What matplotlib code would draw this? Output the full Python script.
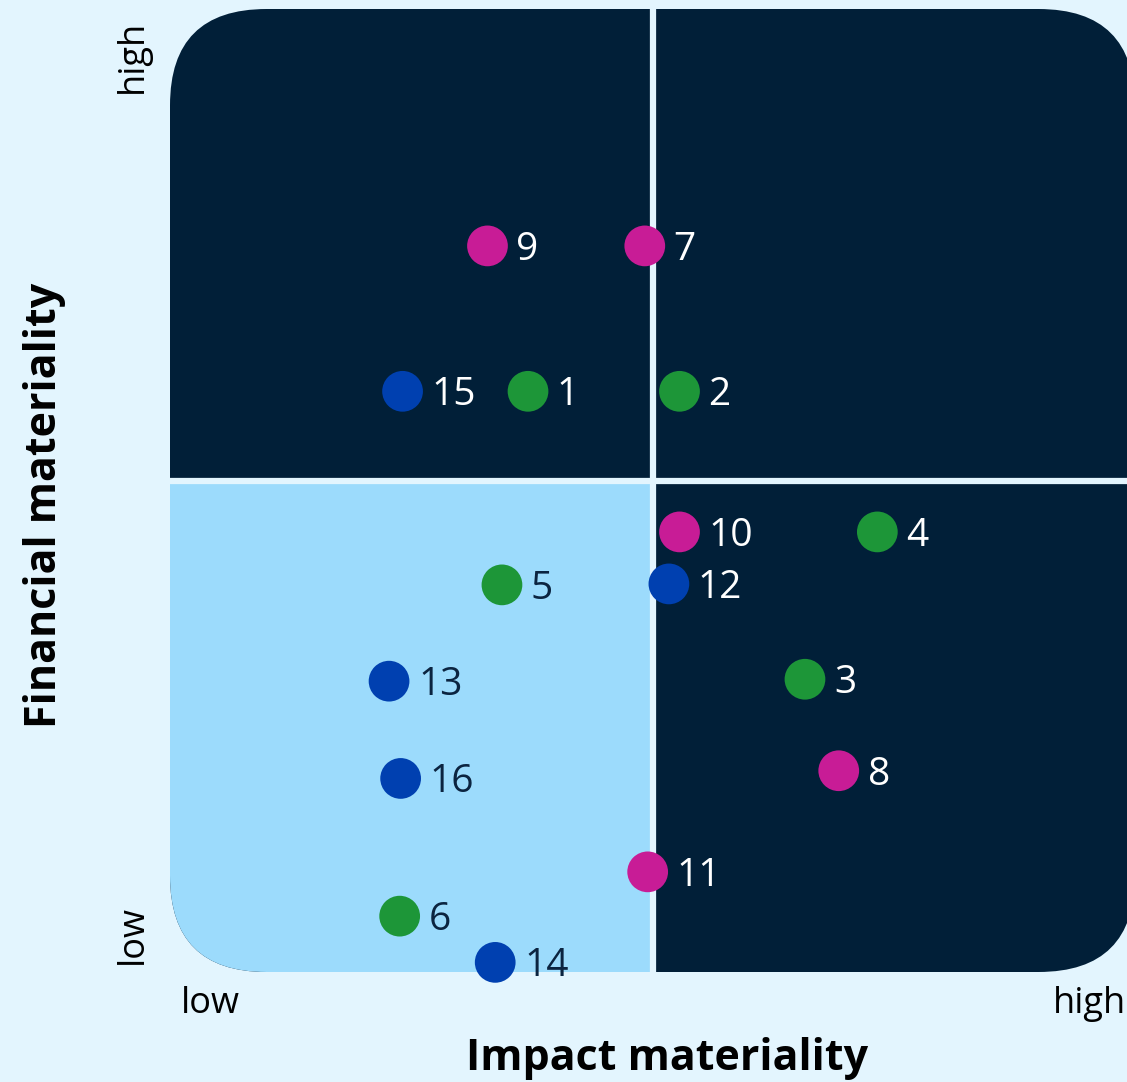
import matplotlib.pyplot as plt
from matplotlib.patches import FancyBboxPatch, Rectangle

# materiality topics: number, impact score, financial score, group colour
topics = ['9', '7', '15', '1', '2', '10', '4', '5', '12', '13', '3', '16', '8', '11', '6', '14']
impact = [3.29, 4.92, 2.41, 3.71, 5.28, 5.28, 7.33, 3.44, 5.17, 2.27, 6.58, 2.39, 6.93, 4.95, 2.38, 3.37]
financial = [7.54, 7.54, 6.03, 6.03, 6.03, 4.57, 4.57, 4.02, 4.03, 3.02, 3.04, 2.01, 2.09, 1.04, 0.58, 0.10]
group = ['pink', 'pink', 'blue', 'green', 'green', 'pink', 'green', 'green', 'blue',
         'blue', 'green', 'blue', 'pink', 'pink', 'green', 'blue']

colors = {'pink': '#C81C96', 'green': '#1D9638', 'blue': '#0040B0'}
bg = '#E3F5FE'
dark = '#011F38'
light = '#9CDBFC'
x_split, y_split = 5.0, 5.1

plt.rcParams['font.family'] = ['Open Sans', 'DejaVu Sans']

fig = plt.figure(figsize=(11.27, 10.82), dpi=100, facecolor=bg)
ax = fig.add_axes([170 / 1127, 110 / 1082, 965 / 1127, 963 / 1082])
ax.set_xlim(0, 10)
ax.set_ylim(0, 10)
ax.axis('off')

# rounded panel with the low/low quadrant highlighted
panel = FancyBboxPatch((0, 0), 10, 10, boxstyle='round,pad=0,rounding_size=1.0',
                       fc=dark, ec='none', zorder=1)
ax.add_patch(panel)
lowlow = Rectangle((0, 0), x_split, y_split, fc=light, ec='none', zorder=2)
ax.add_patch(lowlow)
lowlow.set_clip_path(panel)

# quadrant dividers
ax.plot([x_split, x_split], [0, 10], color=bg, lw=4.5, zorder=3, solid_capstyle='butt')
ax.plot([0, 10], [y_split, y_split], color=bg, lw=4.5, zorder=3, solid_capstyle='butt')

ax.scatter(impact, financial, s=860, c=[colors[g] for g in group],
           edgecolors='none', zorder=4, clip_on=False)

for t, x, y in zip(topics, impact, financial):
    lx = x + 0.3
    col = '#0B2440' if (lx < x_split and y < y_split) else 'white'
    ax.text(lx, y - 0.04, t, fontsize=28, color=col, ha='left', va='center', zorder=5)

# axis end labels and titles
fig.text(210 / 1127, 1 - 1004 / 1082, 'low', fontsize=26, ha='center', va='center', color='black')
fig.text(1090 / 1127, 1 - 1004 / 1082, 'high', fontsize=26, ha='center', va='center', color='black')
fig.text(133 / 1127, 1 - 935 / 1082, 'low', fontsize=26, ha='center', va='center',
         rotation=90, color='black')
fig.text(133 / 1127, 1 - 56 / 1082, 'high', fontsize=26, ha='center', va='center',
         rotation=90, color='black')
fig.text(667 / 1127, 1 - 1058 / 1082, 'Impact materiality', fontsize=31, fontweight='bold',
         ha='center', va='center', color='black')
fig.text(45 / 1127, 1 - 505 / 1082, 'Financial materiality', fontsize=31, fontweight='bold',
         ha='center', va='center', rotation=90, color='black')

fig.savefig('out.png', dpi=100, facecolor=bg)
